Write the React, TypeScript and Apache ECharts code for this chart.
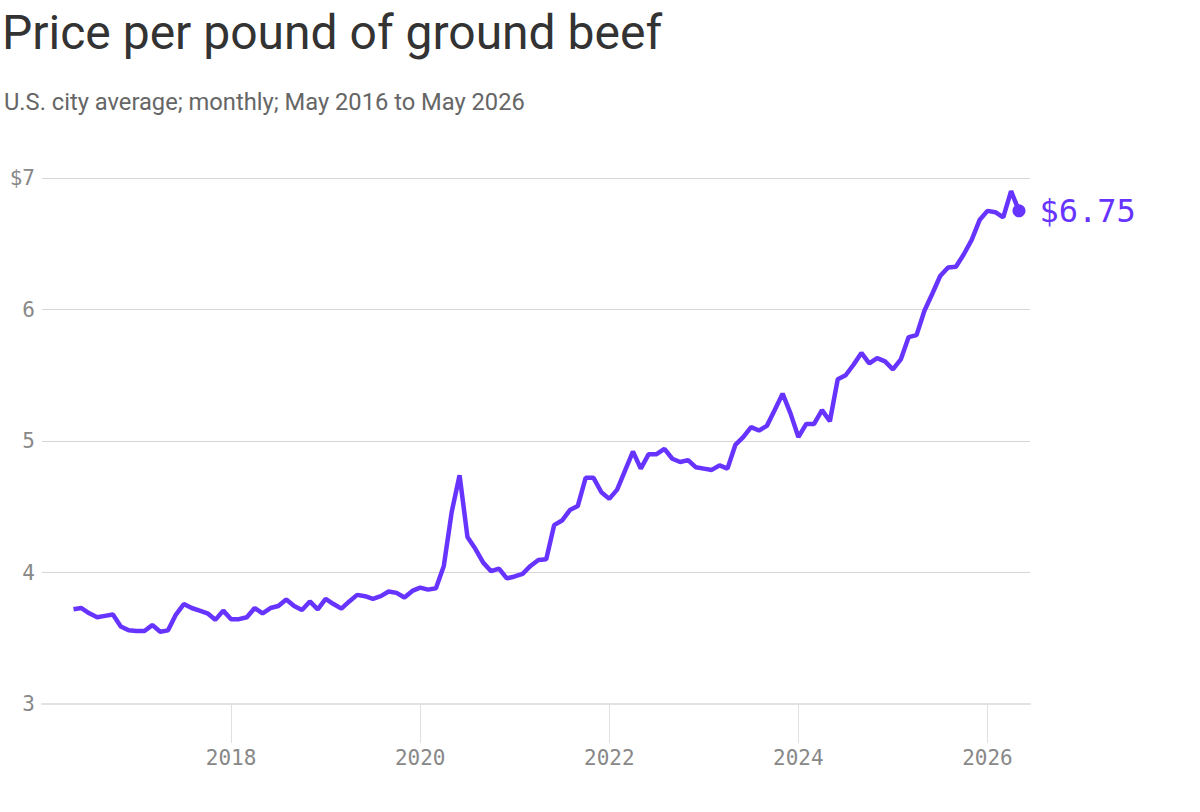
import React, { useEffect, useRef } from "react";
import * as echarts from "echarts";

const titleText = "Price per pound of ground beef";
const subtitleText = "U.S. city average; monthly; May 2016 to May 2026";
const startYear = 2016;
const startMonth = 5; // May
const prices = [
  3.72, 3.73, 3.69, 3.66, 3.67, 3.68, 3.59, 3.56, 3.555, 3.555, 3.6, 3.55,
  3.56, 3.68, 3.76, 3.73, 3.71, 3.69, 3.64, 3.71, 3.645, 3.645, 3.66, 3.73,
  3.69, 3.73, 3.745, 3.795, 3.745, 3.715, 3.78, 3.72, 3.8, 3.76, 3.725, 3.78,
  3.83, 3.82, 3.8, 3.82, 3.855, 3.845, 3.81, 3.86, 3.885, 3.87, 3.88, 4.05,
  4.46, 4.74, 4.27, 4.18, 4.075, 4.01, 4.03, 3.955, 3.97, 3.99, 4.05, 4.095,
  4.1, 4.36, 4.395, 4.475, 4.505, 4.72, 4.72, 4.61, 4.56, 4.63, 4.775, 4.92,
  4.79, 4.9, 4.9, 4.94, 4.865, 4.84, 4.855, 4.8, 4.79, 4.78, 4.815, 4.79,
  4.97, 5.03, 5.105, 5.08, 5.115, 5.235, 5.36, 5.21, 5.03, 5.13, 5.13, 5.235,
  5.15, 5.47, 5.5, 5.58, 5.67, 5.59, 5.63, 5.605, 5.545, 5.62, 5.79, 5.805,
  5.99, 6.12, 6.255, 6.32, 6.325, 6.42, 6.53, 6.68, 6.75, 6.74, 6.7, 6.9,
  6.75,
];
const yearTicks = [2018, 2020, 2022, 2024, 2026];
const yTicks = [3, 4, 5, 6, 7];

const PURPLE = "#6633ff";
const MONO = "'DejaVu Sans Mono', monospace";
const SANS = "Roboto, sans-serif";

export default function App() {
  const ref = useRef<HTMLDivElement>(null);
  useEffect(() => {
    if (!ref.current) return;
    const chart = echarts.init(ref.current, null, { renderer: "svg" });
    const seriesData = prices.map((v, i) => [
      startYear + (startMonth - 1 + i) / 12,
      v,
    ]);
    const last = seriesData[seriesData.length - 1];
    chart.setOption({
      animation: false,
      backgroundColor: "#ffffff",
      title: [
        {
          text: titleText,
          left: -3,
          top: 3,
          textStyle: {
            fontFamily: SANS,
            fontSize: 48,
            fontWeight: "normal",
            color: "#333333",
          },
        },
        {
          text: subtitleText,
          left: -1,
          top: 85,
          textStyle: {
            fontFamily: SANS,
            fontSize: 23.7,
            fontWeight: "normal",
            color: "#666666",
          },
        },
      ],
      grid: { left: 42, right: 170, top: 178, bottom: 108, containLabel: false },
      xAxis: {
        type: "value",
        min: 2016,
        max: 2026.45,
        interval: 2,
        axisLine: { show: true, lineStyle: { color: "#e2e2e2", width: 2 } },
        axisTick: {
          show: true,
          customValues: yearTicks,
          length: 39,
          lineStyle: { color: "#e0e0e0", width: 1 },
        },
        axisLabel: {
          customValues: yearTicks,
          margin: 43,
          fontFamily: MONO,
          fontSize: 21,
          color: "#888888",
          formatter: (v: number) => String(v),
        },
        splitLine: { show: false },
      },
      yAxis: {
        type: "value",
        min: 3,
        max: 7,
        interval: 1,
        axisLine: { show: false },
        axisTick: { show: false },
        axisLabel: {
          customValues: yTicks,
          margin: 7,
          fontFamily: MONO,
          fontSize: 21,
          color: "#888888",
          formatter: (v: number) => (v === 7 ? "$" + v : String(v)),
        },
        splitLine: { show: true, lineStyle: { color: "#d6d6d6", width: 1 } },
      },
      series: [
        {
          type: "line",
          data: seriesData,
          showSymbol: false,
          symbol: "none",
          lineStyle: { color: PURPLE, width: 4.5 },
          z: 3,
        },
        {
          type: "scatter",
          data: [last],
          symbol: "circle",
          symbolSize: 13,
          itemStyle: { color: PURPLE, opacity: 1 },
          label: {
            show: true,
            position: "right",
            distance: 14,
            formatter: (p: any) => "$" + p.value[1].toFixed(2),
            fontFamily: MONO,
            fontSize: 32,
            color: PURPLE,
          },
          z: 4,
        },
      ],
    });
    return () => chart.dispose();
  }, []);
  return (
    <div
      ref={ref}
      style={{ position: "fixed", left: 0, top: 0, width: 1200, height: 812 }}
    />
  );
}
